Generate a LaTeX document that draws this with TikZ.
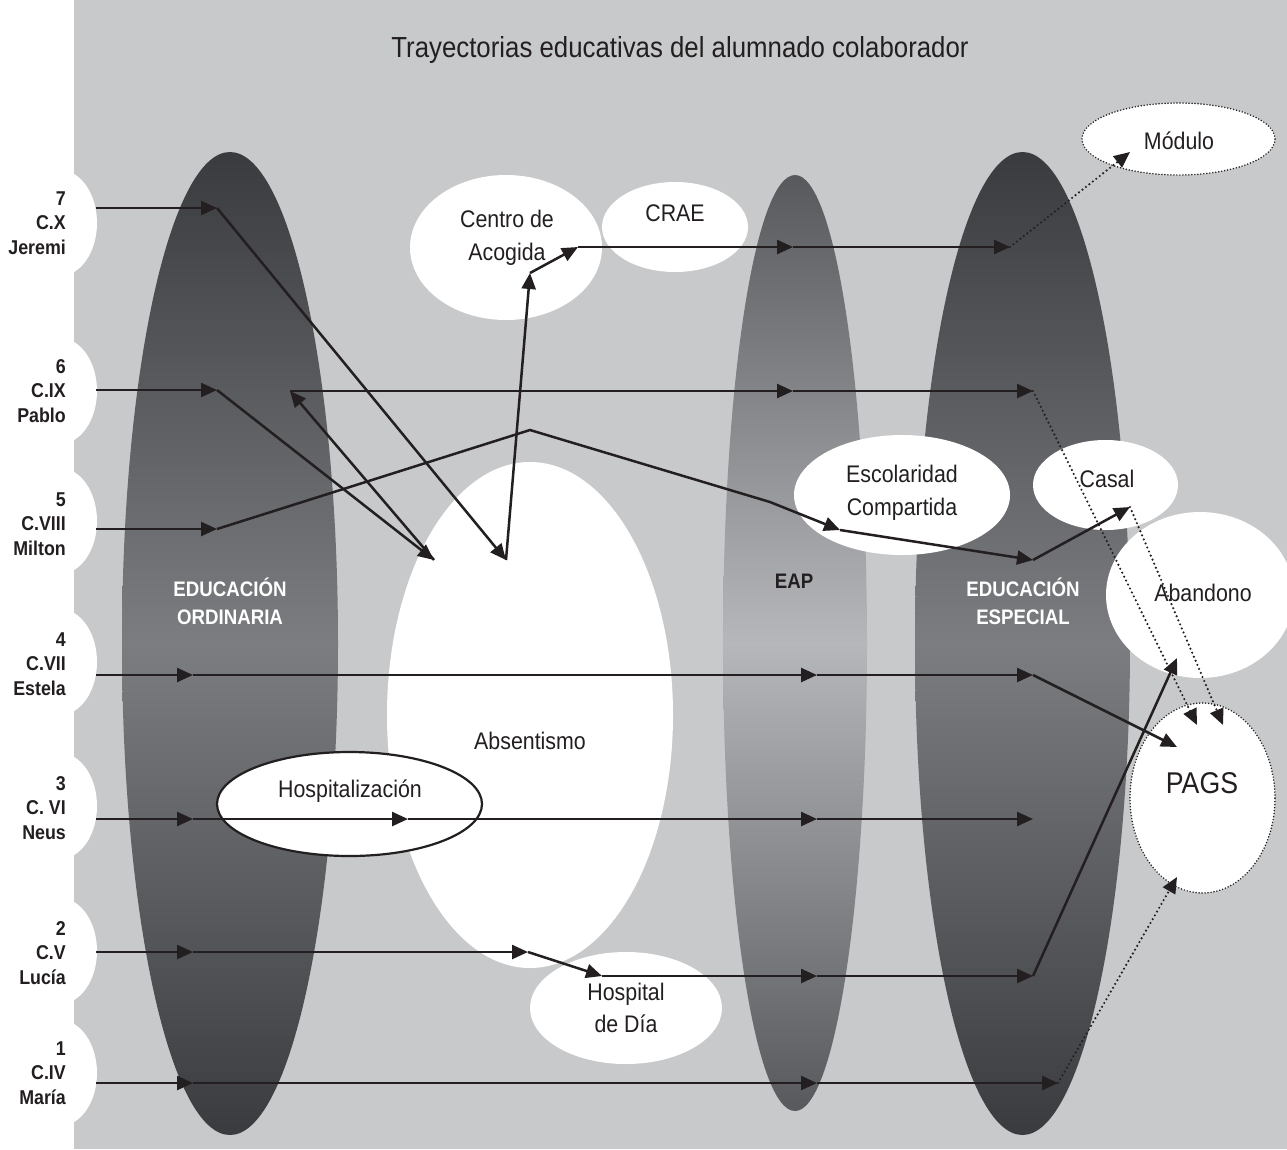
\documentclass[tikz,border=0pt]{standalone}
\usepackage{fontspec}
\setmainfont{Liberation Sans}[FakeStretch=0.89]
\usetikzlibrary{arrows.meta,shapes.geometric}

\definecolor{bg}{RGB}{200,201,203}
\definecolor{ink}{RGB}{35,31,32}
\definecolor{zoneDark}{RGB}{58,59,62}
\definecolor{zoneLight}{RGB}{124,125,129}
\definecolor{eapDark}{RGB}{88,89,92}
\definecolor{eapLight}{RGB}{182,183,186}

\tikzset{
  zone/.style={ellipse, inner sep=0pt, draw=none},
  blob/.style={ellipse, inner sep=0pt, draw=none, fill=white},
  dotblob/.style={ellipse, inner sep=0pt, fill=white, draw=ink, line width=1.7pt,
                  line cap=round, dash pattern=on 0pt off 3pt},
  lbl/.style={font=\fontsize{24}{32.5}\selectfont, text=ink, align=center, inner sep=0pt},
  who/.style={font=\bfseries\fontsize{20}{24.5}\selectfont, text=ink, align=right,
              inner sep=0pt, anchor=east},
  zonelbl/.style={font=\bfseries\fontsize{21}{28}\selectfont, align=center, inner sep=0pt},
  flow/.style={draw=ink, line width=2.5pt, -{Triangle[length=16pt,width=14pt]}},
  dotflow/.style={draw=ink, line width=2.4pt, line cap=round, dash pattern=on 0pt off 4.4pt,
                  -{Triangle[length=16pt,width=14pt]}},
}

\begin{document}
\begin{tikzpicture}[x=1pt,y=-1pt]
\useasboundingbox (0,0) rectangle (1287,1149);
\clip (0,0) rectangle (1287,1149);

% backdrop and left margin with its rounded tabs
\fill[bg] (0,0) rectangle (1287,1149);
\fill[white] (0,0) rectangle (74,1149);
\foreach \yy in {223,391,521,662,806,951,1073}
  \fill[white] (60,\yy) ellipse [x radius=37, y radius=53];

% the three school pathways
\node[zone, minimum width=216pt, minimum height=983pt,
      top color=zoneDark, bottom color=zoneDark, middle color=zoneLight] (ord) at (230,643.5) {};
\node[zone, minimum width=144pt, minimum height=936pt,
      top color=eapDark, bottom color=eapDark, middle color=eapLight] (eap) at (795,643) {};
\node[zone, minimum width=215pt, minimum height=983pt,
      top color=zoneDark, bottom color=zoneDark, middle color=zoneLight] (esp) at (1022.5,643.5) {};

% other settings
\node[blob, minimum width=286pt, minimum height=506pt] (abs) at (530,715) {};
\node[blob, minimum width=192pt, minimum height=145pt] (acog) at (506,247.5) {};
\node[blob, minimum width=146pt, minimum height=90pt] (crae) at (675,227) {};
\node[blob, minimum width=216pt, minimum height=120pt] (esc) at (902,495) {};
\node[blob, minimum width=145pt, minimum height=90pt] (casal) at (1105.5,485) {};
\node[blob, minimum width=188pt, minimum height=166pt] (aband) at (1200,595) {};
\node[blob, minimum width=192pt, minimum height=112pt] (hdia) at (626,1008) {};
\node[dotblob, minimum width=145pt, minimum height=190pt] (pags) at (1202.5,798) {};
\node[dotblob, minimum width=193pt, minimum height=72pt] (modulo) at (1178.5,139) {};
\node[ellipse, inner sep=0pt, fill=white, draw=ink, line width=2.2pt,
      minimum width=265pt, minimum height=104pt] (hosp) at (349.5,804) {};

% texts
\node[lbl, font=\fontsize{29}{34}\selectfont] (title) at (680,49.5)
  {Trayectorias educativas del alumnado colaborador};
\node[lbl] (tabs) at (530,741) {Absentismo};
\node[lbl] (tacog) at (507,238) {Centro de\\Acogida};
\node[lbl] (tcrae) at (675,213) {CRAE};
\node[lbl] (tesc) at (902,493) {Escolaridad\\Compartida};
\node[lbl] (tcasal) at (1107,479) {Casal};
\node[lbl] (taband) at (1203,593) {Abandono};
\node[lbl, font=\fontsize{30}{34}\selectfont] (tpags) at (1202,783) {PAGS};
\node[lbl] (tmod) at (1179,141) {Módulo};
\node[lbl] (thosp) at (350,791) {Hospitalización};
\node[lbl] (thdia) at (626,1008) {Hospital\\de Día};

\node[zonelbl, text=white] (tord) at (230,601) {EDUCACIÓN\\ORDINARIA};
\node[zonelbl, text=ink] (teap) at (794,581) {EAP};
\node[zonelbl, text=white] (tesp) at (1023,601) {EDUCACIÓN\\ESPECIAL};

\node[who] (n7) at (66,223) {7\\C.X\\Jeremi};
\node[who] (n6) at (66,391) {6\\C.IX\\Pablo};
\node[who] (n5) at (66,524) {5\\C.VIII\\Milton};
\node[who] (n4) at (66,664) {4\\C.VII\\Estela};
\node[who] (n3) at (66,808) {3\\C. VI\\Neus};
\node[who] (n2) at (66,953) {2\\C.V\\Lucía};
\node[who] (n1) at (66,1073) {1\\C.IV\\María};

% waypoints of each trajectory
\coordinate (s7) at (96,208);   \coordinate (a7) at (217,208);
\coordinate (b7) at (506,560);  \coordinate (c7) at (530,273);
\coordinate (d7) at (578,247);  \coordinate (e7) at (793,247);
\coordinate (f7) at (1010,247); \coordinate (g7) at (1130,152);

\coordinate (s6) at (96,390);   \coordinate (a6) at (217,390);
\coordinate (b6) at (434,560);  \coordinate (c6) at (290,391);
\coordinate (d6) at (793,391);  \coordinate (e6) at (1033,391);
\coordinate (g6) at (1197,725);

\coordinate (s5) at (96,529);   \coordinate (a5) at (217,529);
\coordinate (p5) at (530,430);  \coordinate (q5) at (770,502);
\coordinate (b5) at (840,530);  \coordinate (c5) at (1033,560);
\coordinate (d5) at (1130,507); \coordinate (g5) at (1223,725);

\coordinate (s4) at (96,675);   \coordinate (a4) at (193,675);
\coordinate (b4) at (817,675);  \coordinate (c4) at (1033,675);
\coordinate (d4) at (1177,747);

\coordinate (s3) at (96,819);   \coordinate (a3) at (193,819);
\coordinate (b3) at (408,819);  \coordinate (c3) at (817,819);
\coordinate (d3) at (1033,819);

\coordinate (s2) at (96,952);   \coordinate (a2) at (193,952);
\coordinate (b2) at (528,952);  \coordinate (c2) at (602,976);
\coordinate (d2) at (817,976);  \coordinate (e2) at (1033,976);
\coordinate (f2) at (1177,658);

\coordinate (s1) at (96,1083);  \coordinate (a1) at (193,1083);
\coordinate (b1) at (817,1083); \coordinate (c1) at (1058,1083);
\coordinate (d1) at (1177,877);

% 7 Jeremi
\draw[flow] (s7) -- (a7);
\draw[flow] (a7) -- (b7);
\draw[flow] (b7) -- (c7);
\draw[flow] (c7) -- (d7);
\draw[flow] (d7) -- (e7);
\draw[flow] (e7) -- (f7);
\draw[dotflow] (f7) -- (g7);

% 6 Pablo
\draw[flow] (s6) -- (a6);
\draw[flow] (a6) -- (b6);
\draw[flow] (b6) -- (c6);
\draw[flow] (c6) -- (d6);
\draw[flow] (d6) -- (e6);
\draw[dotflow] (e6) -- (g6);

% 5 Milton
\draw[flow] (s5) -- (a5);
\draw[flow] (a5) -- (p5) -- (q5) -- (b5);
\draw[flow] (b5) -- (c5);
\draw[flow] (c5) -- (d5);
\draw[dotflow] (d5) -- (g5);

% 4 Estela
\draw[flow] (s4) -- (a4);
\draw[flow] (a4) -- (b4);
\draw[flow] (b4) -- (c4);
\draw[flow] (c4) -- (d4);

% 3 Neus
\draw[flow] (s3) -- (a3);
\draw[flow] (a3) -- (b3);
\draw[flow] (b3) -- (c3);
\draw[flow] (c3) -- (d3);

% 2 Lucía
\draw[flow] (s2) -- (a2);
\draw[flow] (a2) -- (b2);
\draw[flow] (b2) -- (c2);
\draw[flow] (c2) -- (d2);
\draw[flow] (d2) -- (e2);
\draw[flow] (e2) -- (f2);

% 1 María
\draw[flow] (s1) -- (a1);
\draw[flow] (a1) -- (b1);
\draw[flow] (b1) -- (c1);
\draw[dotflow] (c1) -- (d1);
\end{tikzpicture}
\end{document}
